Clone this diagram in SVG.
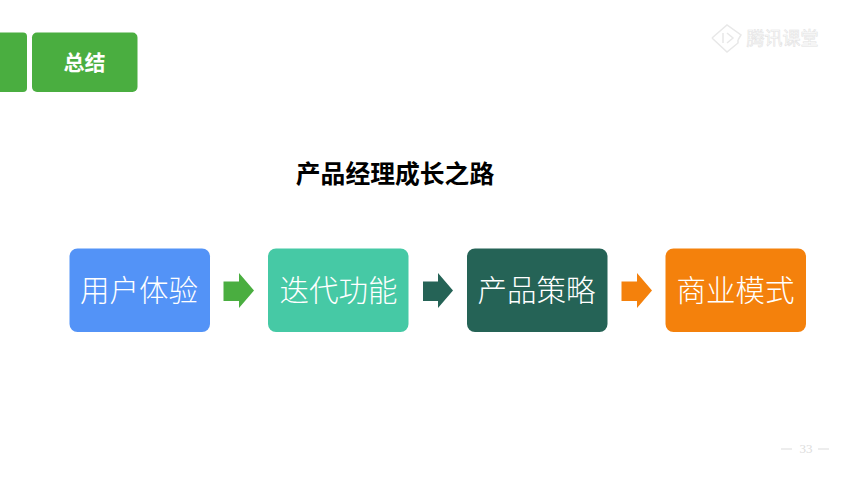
<svg xmlns="http://www.w3.org/2000/svg" width="850" height="478" viewBox="0 0 850 478">
<style>
text{font-family:"Noto Sans CJK SC","Liberation Sans",sans-serif}
.t{font-size:29.500px;fill:#fff;text-anchor:middle;font-weight:300}
.tab{fill:#4aae40}
</style>
<rect width="850" height="478" fill="#fff"/>
<g id="tab-prev"><rect class="tab" x="-10" y="32.500" width="37" height="59.500" rx="4"/></g>
<g id="tab-summary"><rect class="tab" x="32" y="32.500" width="105.500" height="59.500" rx="5"/><text x="84.500" y="70" font-size="21" font-weight="700" fill="#fff" text-anchor="middle">总结</text></g>
<g id="logo" fill="none" stroke="#e8e8e8" stroke-width="1.500">
<path d="M712 38L727 25L741 35L738 40M712 38L727 52L738 43V40"/>
<path d="M723 33V43M727 33L733 38L727 43"/>
<text x="782.500" y="45" font-size="18" fill="#fff" stroke="#e2e2e2" stroke-width="0.600" text-anchor="middle">腾讯课堂</text>
</g>
<g id="title"><text x="395" y="182.500" font-size="24.800" font-weight="700" fill="#000" text-anchor="middle">产品经理成长之路</text></g>
<g id="node-1"><rect x="69.500" y="248.500" width="140.500" height="83.500" rx="8" fill="#5393f7"/><text class="t" x="139" y="301">用户体验</text></g>
<g id="node-2"><rect x="268" y="248.500" width="140.500" height="83.500" rx="8" fill="#46c9a5"/><text class="t" x="338.500" y="301">迭代功能</text></g>
<g id="node-3"><rect x="467" y="248.500" width="140.500" height="83.500" rx="8" fill="#256356"/><text class="t" x="536.500" y="301">产品策略</text></g>
<g id="node-4"><rect x="665.500" y="248.500" width="140.500" height="83.500" rx="8" fill="#f4810c"/><text class="t" x="735.500" y="301">商业模式</text></g>
<g id="connectors">
<path d="M223.500 281.500H239V273L254 290.500L239 308V301H223.500Z" fill="#4aae40"/>
<path d="M423 281.500H438V273L453 290.500L438 308V301H423Z" fill="#256356"/>
<path d="M621.500 281.500H637V273L652 290.500L637 308V301H621.500Z" fill="#f4810c"/>
</g>
<g id="page-number" fill="#dcdcdc"><rect x="781" y="448.500" width="11" height="1"/><text x="806" y="453" font-size="13" text-anchor="middle" style="font-family:'Liberation Serif',serif">33</text><rect x="818" y="448.500" width="11" height="1"/></g>
</svg>
